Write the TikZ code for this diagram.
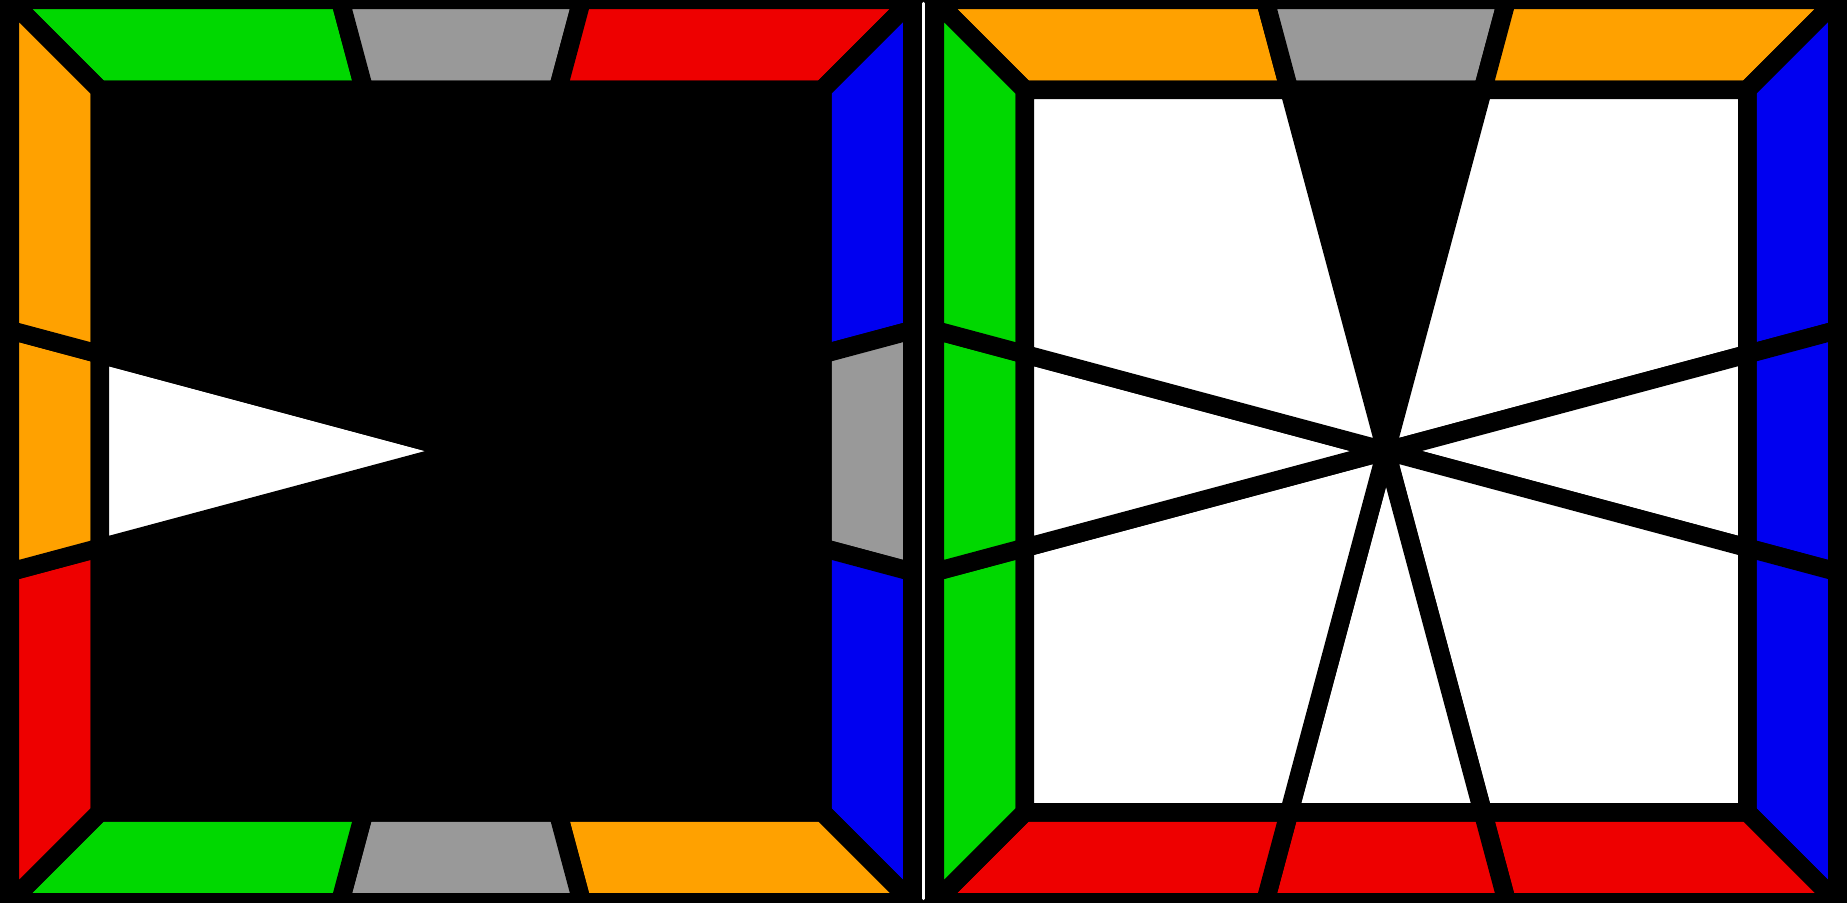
\documentclass[tikz,border=0pt]{standalone}
\usepackage{xcolor}
\usepackage{tikz}

\definecolor{sqgreen}{RGB}{0,216,0}
\definecolor{sqorange}{RGB}{255,161,0}
\definecolor{sqred}{RGB}{238,0,0}
\definecolor{sqblue}{RGB}{0,0,240}
\definecolor{sqgray}{RGB}{153,153,153}

% outer edge, ring edge, and where the 15 degree cuts meet them
\newcommand{\Ro}{4.5125}
\newcommand{\Ri}{3.6125}
\newcommand{\Ao}{1.2091}
\newcommand{\Ai}{0.9680}

\begin{document}
\begin{tikzpicture}[
    sticker/.style={draw=black, line width=0.185cm, line join=miter},
    panel/.style={fill=black}
]
\useasboundingbox (0,0) rectangle (18.47,9.02);
\fill[white] (0,0) rectangle (18.47,9.02);

%% --- Bottom face (left) ---
\fill[panel] (0,0) rectangle (9.22,9.02);
\begin{scope}[shift={(4.61,4.51)}]
  \foreach \ang/\ca/\cb/\cc in {0/sqgreen/sqgray/sqred, -90/sqblue/sqgray/sqblue,
                                180/sqorange/sqgray/sqgreen, 90/sqred/sqorange/sqorange}{
    \begin{scope}[rotate=\ang]
      \filldraw[sticker, fill=\ca] (-\Ro,\Ro) -- (-\Ao,\Ro) -- (-\Ai,\Ri) -- (-\Ri,\Ri) -- cycle;
      \filldraw[sticker, fill=\cb] (-\Ao,\Ro) -- (\Ao,\Ro) -- (\Ai,\Ri) -- (-\Ai,\Ri) -- cycle;
      \filldraw[sticker, fill=\cc] (\Ao,\Ro) -- (\Ro,\Ro) -- (\Ri,\Ri) -- (\Ai,\Ri) -- cycle;
    \end{scope}
  }
  \foreach \ang/\ce in {0/black, -90/black, 180/black, 90/white}{
    \begin{scope}[rotate=\ang]
      \filldraw[sticker, fill=\ce] (0,0) -- (-\Ai,\Ri) -- (\Ai,\Ri) -- cycle;
      \filldraw[sticker, fill=black] (0,0) -- (\Ai,\Ri) -- (\Ri,\Ri) -- (\Ri,\Ai) -- cycle;
    \end{scope}
  }
\end{scope}

%% --- Top face (right) ---
\fill[panel] (9.25,0) rectangle (18.47,9.02);
\begin{scope}[shift={(13.86,4.51)}]
  \foreach \ang/\ca/\cb/\cc in {0/sqorange/sqgray/sqorange, -90/sqblue/sqblue/sqblue,
                                180/sqred/sqred/sqred, 90/sqgreen/sqgreen/sqgreen}{
    \begin{scope}[rotate=\ang]
      \filldraw[sticker, fill=\ca] (-\Ro,\Ro) -- (-\Ao,\Ro) -- (-\Ai,\Ri) -- (-\Ri,\Ri) -- cycle;
      \filldraw[sticker, fill=\cb] (-\Ao,\Ro) -- (\Ao,\Ro) -- (\Ai,\Ri) -- (-\Ai,\Ri) -- cycle;
      \filldraw[sticker, fill=\cc] (\Ao,\Ro) -- (\Ro,\Ro) -- (\Ri,\Ri) -- (\Ai,\Ri) -- cycle;
    \end{scope}
  }
  \foreach \ang/\ce in {0/black, -90/white, 180/white, 90/white}{
    \begin{scope}[rotate=\ang]
      \filldraw[sticker, fill=\ce] (0,0) -- (-\Ai,\Ri) -- (\Ai,\Ri) -- cycle;
      \filldraw[sticker, fill=white] (0,0) -- (\Ai,\Ri) -- (\Ri,\Ri) -- (\Ri,\Ai) -- cycle;
    \end{scope}
  }
\end{scope}

\end{tikzpicture}
\end{document}
